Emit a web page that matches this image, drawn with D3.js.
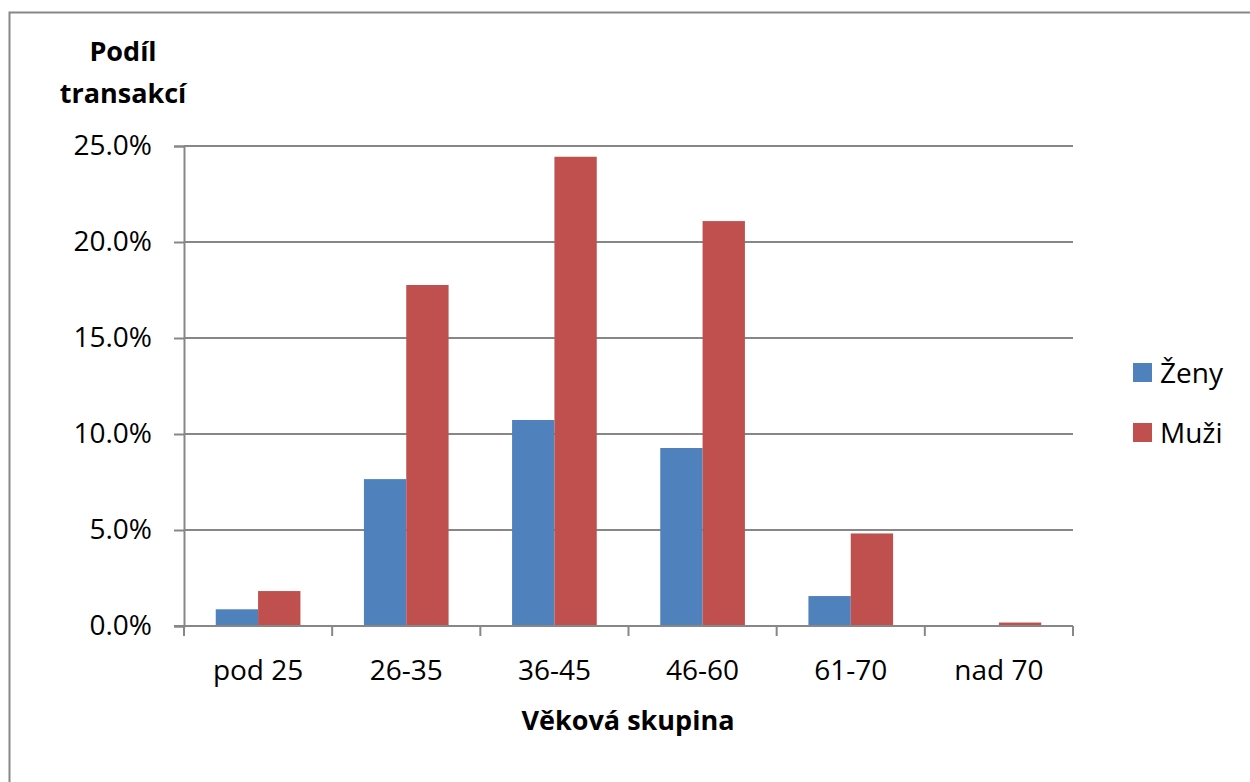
<!DOCTYPE html>
<html>
<head>
<meta charset="utf-8">
<script src="https://cdn.jsdelivr.net/npm/d3@7"></script>
<style>
  body { margin: 0; background: #fff; }
  svg text { font-family: "Open Sans", sans-serif; fill: #000; }
</style>
</head>
<body>
<svg id="chart" width="1250" height="782"></svg>
<script>
const categories = ["pod 25", "26-35", "36-45", "46-60", "61-70", "nad 70"];
const seriesNames = ["Ženy", "Muži"];
const zenyValues = [0.87, 7.65, 10.73, 9.27, 1.56, 0.0];
const muziValues = [1.82, 17.76, 24.44, 21.09, 4.82, 0.18];
const yTicks = [0, 5, 10, 15, 20, 25];
const colors = ["#4F81BD", "#C0504D"];

const svg = d3.select("#chart");
const gridColor = "#878787";
const fontSize = 28;
const titleSize = 27;

// outer frame (only left and top visible in the crop)
svg.append("rect")
  .attr("x", 9.5).attr("y", 12.5)
  .attr("width", 1300).attr("height", 900)
  .attr("fill", "none")
  .attr("stroke", gridColor)
  .attr("stroke-width", 2);

const plot = { left: 184, right: 1073, top: 146, bottom: 626 };

const x = d3.scaleBand()
  .domain(categories)
  .range([plot.left, plot.right]);

// excel gap width 150%: half the gap on each side of the pair
const xSeries = d3.scaleBand()
  .domain(seriesNames)
  .range([0, x.bandwidth()])
  .paddingInner(0)
  .paddingOuter(0.75);

const y = d3.scaleLinear().domain([0, 25]).range([plot.bottom, plot.top]);

const yAxisG = svg.append("g")
  .attr("transform", `translate(${plot.left},0)`)
  .call(d3.axisLeft(y).tickValues(yTicks).tickSize(10).tickFormat(d => d.toFixed(1) + "%").tickPadding(22));
yAxisG.select(".domain").attr("stroke", gridColor).attr("stroke-width", 2);
yAxisG.selectAll(".tick line").attr("stroke", gridColor).attr("stroke-width", 2);
yAxisG.selectAll(".tick text").attr("font-size", fontSize).attr("font-family", "'Open Sans', sans-serif");

// gridlines
svg.append("g")
  .selectAll("line")
  .data(yTicks.filter(d => d > 0))
  .join("line")
  .attr("x1", plot.left).attr("x2", plot.right)
  .attr("y1", d => y(d)).attr("y2", d => y(d))
  .attr("stroke", gridColor)
  .attr("stroke-width", 2);

// bars
const rows = categories.map((c, i) => ({ cat: c, vals: [zenyValues[i], muziValues[i]] }));
svg.append("g")
  .selectAll("g")
  .data(rows)
  .join("g")
  .attr("transform", d => `translate(${x(d.cat)},0)`)
  .selectAll("rect")
  .data(d => d.vals.map((v, j) => ({ name: seriesNames[j], v, j })))
  .join("rect")
  .attr("x", d => xSeries(d.name))
  .attr("width", xSeries.bandwidth())
  .attr("y", d => y(d.v))
  .attr("height", d => y(0) - y(d.v))
  .attr("fill", d => colors[d.j]);

// x axis with ticks at category boundaries
const xAxisG = svg.append("g");
xAxisG.append("line")
  .attr("x1", plot.left - 10).attr("x2", plot.right)
  .attr("y1", plot.bottom).attr("y2", plot.bottom)
  .attr("stroke", gridColor).attr("stroke-width", 2);
const bounds = categories.map(c => x(c)).concat([plot.right]);
xAxisG.selectAll("line.tk")
  .data(bounds)
  .join("line")
  .attr("class", "tk")
  .attr("x1", d => d).attr("x2", d => d)
  .attr("y1", plot.bottom).attr("y2", plot.bottom + 10)
  .attr("stroke", gridColor).attr("stroke-width", 2);
xAxisG.selectAll("text")
  .data(categories)
  .join("text")
  .attr("x", d => x(d) + x.bandwidth() / 2)
  .attr("y", 680)
  .attr("text-anchor", "middle")
  .attr("font-size", fontSize)
  .text(d => d);

// axis titles
svg.append("text")
  .attr("x", 628).attr("y", 730)
  .attr("text-anchor", "middle")
  .attr("font-size", titleSize).attr("font-weight", "bold")
  .text("Věková skupina");

const yTitle = svg.append("text")
  .attr("text-anchor", "middle")
  .attr("font-size", titleSize).attr("font-weight", "bold");
yTitle.append("tspan").attr("x", 123).attr("y", 61).text("Podíl");
yTitle.append("tspan").attr("x", 123).attr("y", 103).text("transakcí");

// legend
const legend = svg.append("g")
  .selectAll("g")
  .data(seriesNames)
  .join("g")
  .attr("transform", (d, i) => `translate(1133,${363 + i * 60})`);
legend.append("rect")
  .attr("width", 19).attr("height", 19)
  .attr("fill", (d, i) => colors[i]);
legend.append("text")
  .attr("x", 27).attr("y", 20)
  .attr("font-size", fontSize)
  .text(d => d);
</script>
</body>
</html>
